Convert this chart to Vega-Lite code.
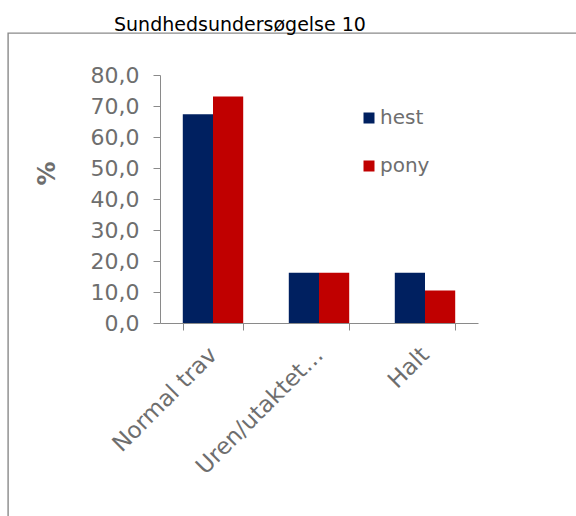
{
  "$schema": "https://vega.github.io/schema/vega-lite/v6.json",
  "autosize": {"type": "none"},
  "padding": {"left": 8, "top": 33, "right": 0, "bottom": 0},
  "width": 568,
  "height": 483,
  "background": "white",
  "config": {
    "font": "DejaVu Sans",
    "view": {"stroke": "#8a8a8a", "strokeWidth": 1.4, "fill": "white", "strokeDash": [568, 1051, 483, 0]}
  },
  "title": {
    "text": "Sundhedsundersøgelse 10",
    "anchor": "start",
    "frame": "group",
    "dx": 106,
    "offset": -17,
    "baseline": "alphabetic",
    "fontSize": 19,
    "fontWeight": "normal",
    "color": "#000000",
    "font": "DejaVu Sans"
  },
  "data": {
    "values": [
      {"kategori": "Normal trav", "serie": "hest", "pct": 67.3},
      {"kategori": "Normal trav", "serie": "pony", "pct": 73.1},
      {"kategori": "Uren/utaktet…", "serie": "hest", "pct": 16.2},
      {"kategori": "Uren/utaktet…", "serie": "pony", "pct": 16.2},
      {"kategori": "Halt", "serie": "hest", "pct": 16.2},
      {"kategori": "Halt", "serie": "pony", "pct": 10.5}
    ]
  },
  "mark": {"type": "bar"},
  "encoding": {
    "x": {
      "field": "kategori",
      "type": "nominal",
      "sort": ["Normal trav", "Uren/utaktet…", "Halt"],
      "scale": {"range": [152, 470], "paddingInner": 0.43, "paddingOuter": 0.215},
      "axis": {
        "title": null,
        "offset": -193,
        "tickBand": "extent",
        "labelAngle": -45,
        "labelAlign": "right",
        "labelBaseline": "middle",
        "labelFontSize": 23,
        "labelColor": "#6e6e6e",
        "labelPadding": 21,
        "tickSize": 7,
        "tickColor": "#8a8a8a",
        "domainColor": "#8a8a8a",
        "grid": false
      }
    },
    "xOffset": {"field": "serie", "type": "nominal", "sort": ["hest", "pony"]},
    "y": {
      "field": "pct",
      "type": "quantitative",
      "scale": {"domain": [0, 80], "range": [290, 42], "nice": false},
      "axis": {
        "title": "%",
        "titleFontSize": 24,
        "titleFontWeight": "bold",
        "titleColor": "#6e6e6e",
        "titlePadding": 31,
        "titleY": 140,
        "offset": -152,
        "values": [0, 10, 20, 30, 40, 50, 60, 70, 80],
        "labelExpr": "replace(format(datum.value, '.1f'), '.', ',')",
        "labelFontSize": 22,
        "labelColor": "#6e6e6e",
        "labelPadding": 14,
        "tickSize": 7,
        "tickColor": "#8a8a8a",
        "domainColor": "#8a8a8a",
        "grid": false
      }
    },
    "color": {
      "field": "serie",
      "type": "nominal",
      "sort": ["hest", "pony"],
      "scale": {"domain": ["hest", "pony"], "range": ["#002060", "#C00000"]},
      "legend": {
        "title": null,
        "orient": "none",
        "legendX": 351,
        "legendY": 75,
        "padding": 0,
        "symbolType": "square",
        "symbolSize": 121,
        "symbolStrokeWidth": 0,
        "labelFontSize": 20,
        "labelColor": "#6e6e6e",
        "labelOffset": 1,
        "rowPadding": 28
      }
    }
  }
}
